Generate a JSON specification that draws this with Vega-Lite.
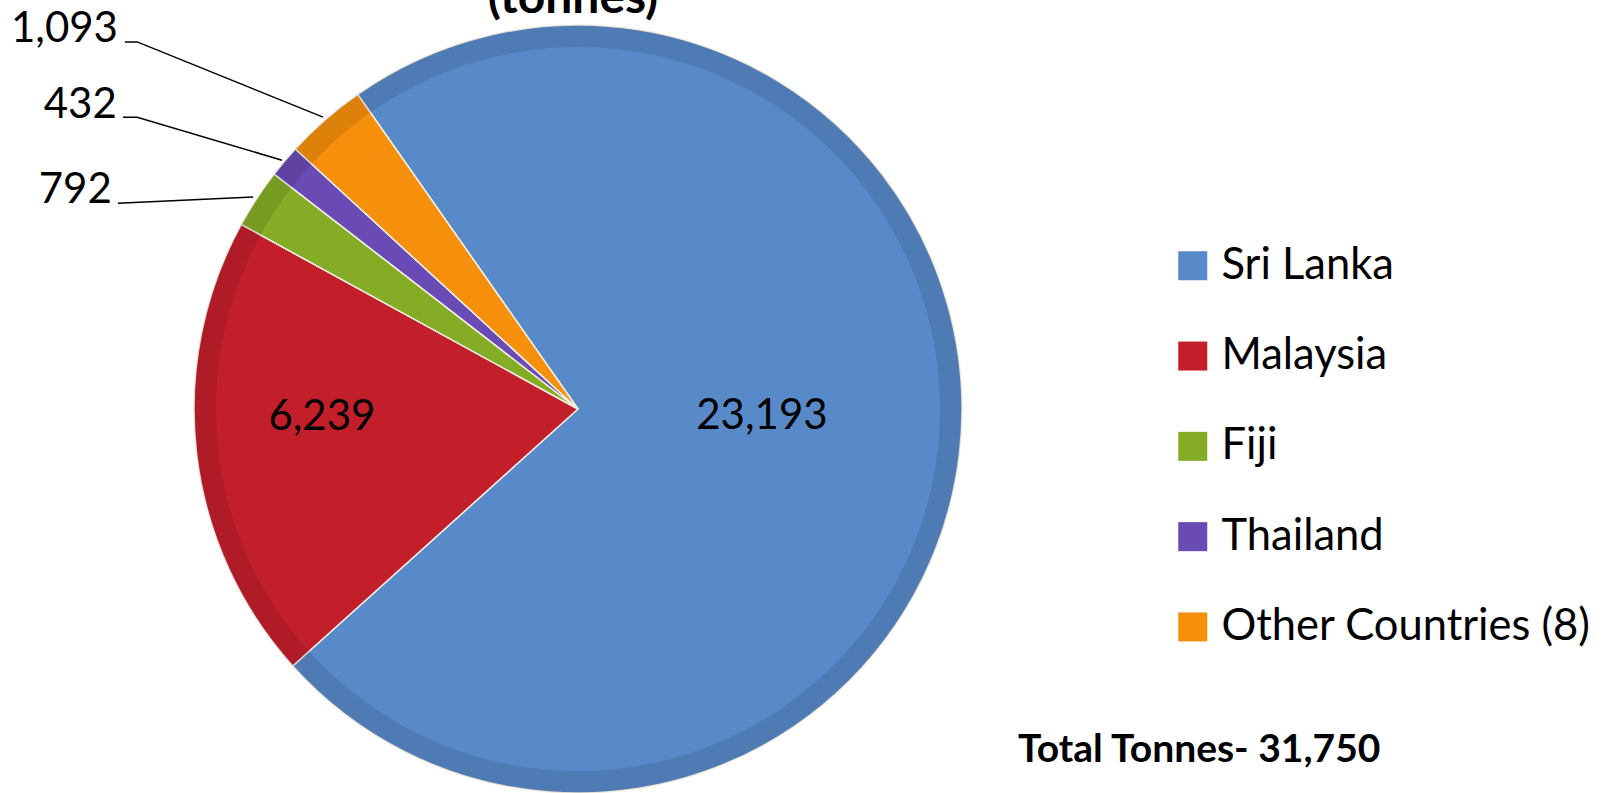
{
  "$schema": "https://vega.github.io/schema/vega-lite/v6.json",
  "autosize": {"type": "none"},
  "width": 768,
  "height": 768,
  "padding": {"left": 194, "top": 25, "right": 646, "bottom": 0},
  "background": "white",
  "config": {"font": "Lato", "view": {"stroke": null}},
  "datasets": {
    "slices": [
      {"country": "Sri Lanka", "tonnes": 23193, "rank": 1},
      {"country": "Malaysia", "tonnes": 6239, "rank": 2},
      {"country": "Fiji", "tonnes": 792, "rank": 3},
      {"country": "Thailand", "tonnes": 432, "rank": 4},
      {"country": "Other Countries (8)", "tonnes": 1093, "rank": 5}
    ],
    "inside": [
      {"value": 23193, "x": 0.479, "y": -0.018},
      {"value": 6239, "x": -0.667, "y": -0.021}
    ],
    "outside": [
      {"value": 1093, "x": -1.198, "y": 0.956},
      {"value": 432, "x": -1.201, "y": 0.758},
      {"value": 792, "x": -1.214, "y": 0.536}
    ],
    "leaders": [
      {"label": "1,093", "pt": 1, "x": -1.180, "y": 0.956},
      {"label": "1,093", "pt": 2, "x": -1.148, "y": 0.956},
      {"label": "1,093", "pt": 3, "x": -0.664, "y": 0.760},
      {"label": "432", "pt": 1, "x": -1.185, "y": 0.760},
      {"label": "432", "pt": 2, "x": -1.148, "y": 0.760},
      {"label": "432", "pt": 3, "x": -0.771, "y": 0.648},
      {"label": "792", "pt": 1, "x": -1.198, "y": 0.536},
      {"label": "792", "pt": 2, "x": -0.846, "y": 0.552}
    ],
    "notes": [
      {"text": "(tonnes)", "x": -0.013, "y": 1.031, "kind": "title"}
    ],
    "total": [
      {"text": "Total Tonnes- 31,750", "x": 1.146, "y": -0.919}
    ]
  },
  "layer": [
    {
      "data": {"name": "slices"},
      "mark": {"type": "arc", "outerRadius": 384, "stroke": "#f4efe6", "strokeWidth": 1.5},
      "encoding": {
        "theta": {"field": "tonnes", "type": "quantitative", "stack": true, "scale": {"range": [-0.6109, 5.6723]}},
        "order": {"field": "rank", "type": "quantitative"},
        "color": {
          "field": "country",
          "type": "nominal",
          "scale": {
            "domain": ["Sri Lanka", "Malaysia", "Fiji", "Thailand", "Other Countries (8)"],
            "range": ["#5889c9", "#c31f2b", "#84ad25", "#6a4ab4", "#f6900c"]
          },
          "legend": {
            "title": null,
            "orient": "none",
            "legendX": 977,
            "legendY": 219,
            "padding": 0,
            "symbolType": "square",
            "symbolSize": 841,
            "symbolStrokeWidth": 0,
            "symbolOpacity": 1,
            "labelFontSize": 43.5,
            "labelFont": "Lato",
            "labelColor": "black",
            "labelOffset": 7,
            "rowPadding": 45.3,
            "labelLimit": 600
          }
        }
      }
    },
    {
      "data": {"name": "slices"},
      "mark": {"type": "arc", "outerRadius": 384, "innerRadius": 362, "fill": "black", "fillOpacity": 0.1, "strokeWidth": 0},
      "encoding": {
        "theta": {"field": "tonnes", "type": "quantitative", "stack": true, "scale": {"range": [-0.6109, 5.6723]}},
        "order": {"field": "rank", "type": "quantitative"}
      }
    },
    {
      "data": {"name": "leaders"},
      "mark": {"type": "line", "color": "black", "strokeWidth": 1.5},
      "encoding": {
        "x": {"field": "x", "type": "quantitative", "scale": {"domain": [-1, 1], "nice": false, "zero": false}, "axis": null},
        "y": {"field": "y", "type": "quantitative", "scale": {"domain": [-1, 1], "nice": false, "zero": false}, "axis": null},
        "detail": {"field": "label", "type": "nominal"},
        "order": {"field": "pt", "type": "quantitative"}
      }
    },
    {
      "data": {"name": "inside"},
      "mark": {"type": "text", "fontSize": 42, "align": "center", "baseline": "middle", "color": "black"},
      "encoding": {
        "x": {"field": "x", "type": "quantitative"},
        "y": {"field": "y", "type": "quantitative"},
        "text": {"field": "value", "type": "quantitative", "format": ","}
      }
    },
    {
      "data": {"name": "outside"},
      "mark": {"type": "text", "fontSize": 42, "align": "right", "baseline": "alphabetic", "color": "black"},
      "encoding": {
        "x": {"field": "x", "type": "quantitative"},
        "y": {"field": "y", "type": "quantitative"},
        "text": {"field": "value", "type": "quantitative", "format": ","}
      }
    },
    {
      "data": {"name": "notes"},
      "mark": {"type": "text", "fontSize": 48, "fontWeight": "bold", "align": "center", "baseline": "alphabetic", "color": "black"},
      "encoding": {
        "x": {"field": "x", "type": "quantitative"},
        "y": {"field": "y", "type": "quantitative"},
        "text": {"field": "text", "type": "nominal"}
      }
    },
    {
      "data": {"name": "total"},
      "mark": {"type": "text", "fontSize": 39, "fontWeight": "bold", "align": "left", "baseline": "alphabetic", "color": "black"},
      "encoding": {
        "x": {"field": "x", "type": "quantitative"},
        "y": {"field": "y", "type": "quantitative"},
        "text": {"field": "text", "type": "nominal"}
      }
    }
  ]
}
